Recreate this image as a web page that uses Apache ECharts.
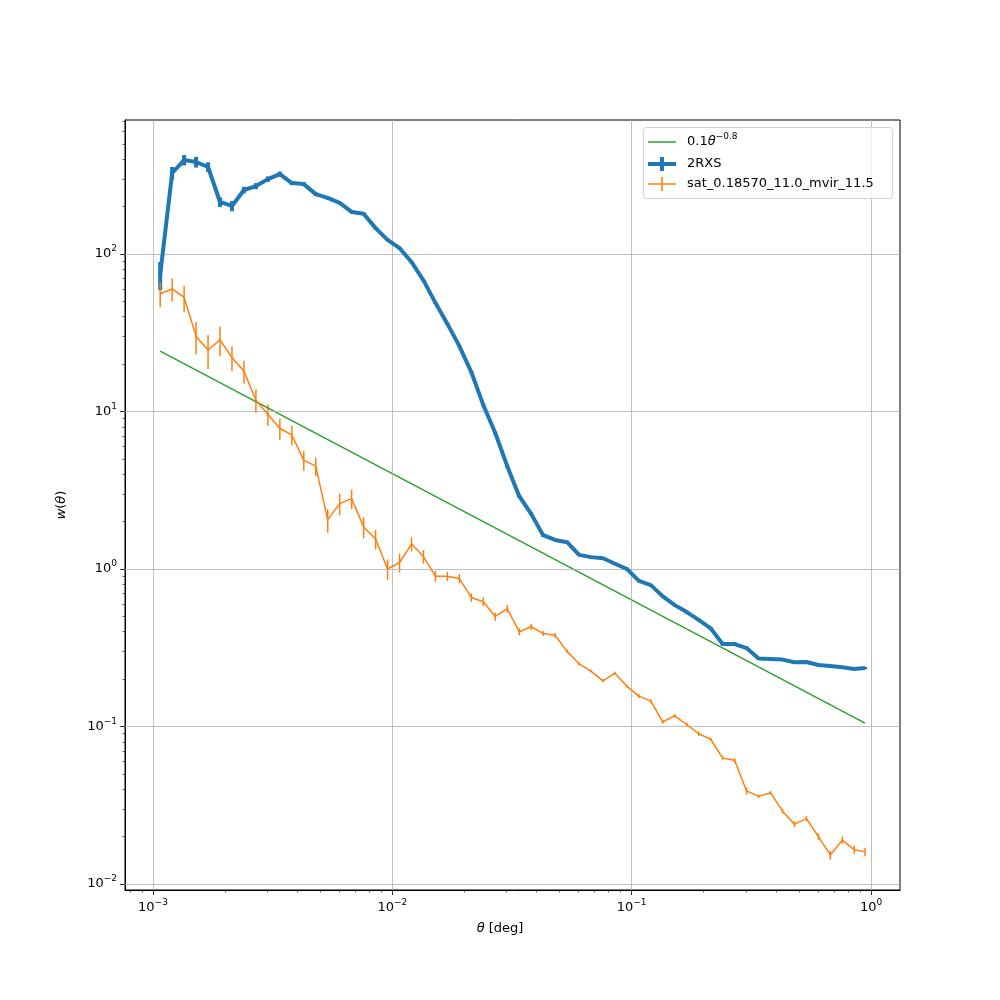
<!DOCTYPE html>
<html><head><meta charset="utf-8">
<script src="https://cdn.jsdelivr.net/npm/echarts@6/dist/echarts.min.js"></script>
<style>html,body{margin:0;background:#fff}#c{width:1000px;height:1000px}</style>
</head><body><div id="c"></div>
<script>
// log10(theta) of each bin
const logTheta = [-2.97,-2.92,-2.87,-2.82,-2.77,-2.72,-2.67,-2.62,-2.57,-2.52,-2.47,-2.42,-2.37,-2.32,-2.27,-2.22,-2.17,-2.12,-2.07,-2.02,-1.97,-1.92,-1.87,-1.82,-1.77,-1.72,-1.67,-1.62,-1.57,-1.52,-1.47,-1.42,-1.37,-1.32,-1.27,-1.22,-1.17,-1.12,-1.07,-1.02,-0.97,-0.92,-0.87,-0.82,-0.77,-0.72,-0.67,-0.62,-0.57,-0.52,-0.47,-0.42,-0.37,-0.32,-0.27,-0.22,-0.17,-0.12,-0.07,-0.025];
const rxs = [74,327,395,384,357,214,202,255,270,299,322,282,278,240,227,211,185,180,146,123,109,89,68,49,36,26,17.8,11,7.3,4.5,2.9,2.24,1.64,1.53,1.48,1.23,1.19,1.17,1.08,1.0,0.84,0.79,0.67,0.59,0.533,0.475,0.42,0.334,0.334,0.315,0.27,0.268,0.266,0.256,0.257,0.246,0.242,0.238,0.232,0.235];
const rxsErr = [15,30,30,30,25,15,15,12,12,12,12,8,8,6,5,4,4,3,3,2,2,1.5,1,0.8,0.6,0.4,0.3,0.2,0.15,0.1,0.07,0.05,0.04,0.03,0.03,0.02,0.02,0.02,0.02,0.02,0.015,0.015,0.01,0.01,0.01,0.01,0.008,0.008,0.008,0.006,0.005,0.005,0.005,0.005,0.005,0.004,0.004,0.004,0.004,0.004];
const sat = [56,60,53,30,24.6,28.5,22,18,11.8,9.6,7.8,7.1,4.9,4.5,2.05,2.6,2.8,1.85,1.55,1.0,1.1,1.44,1.2,0.9,0.9,0.87,0.66,0.62,0.5,0.56,0.40,0.43,0.39,0.38,0.30,0.25,0.225,0.195,0.218,0.18,0.156,0.145,0.107,0.117,0.103,0.09,0.083,0.063,0.061,0.039,0.036,0.038,0.029,0.024,0.026,0.020,0.0153,0.019,0.0165,0.016];
const satErr = [10,10,10,7,6,6,4,3,2,1.5,1.2,1,0.7,0.6,0.35,0.4,0.4,0.28,0.22,0.15,0.15,0.15,0.12,0.07,0.06,0.06,0.04,0.04,0.03,0.03,0.02,0.02,0.015,0.012,0.008,0.006,0.005,0.005,0.005,0.004,0.004,0.004,0.003,0.003,0.003,0.003,0.002,0.002,0.002,0.002,0.001,0.001,0.001,0.001,0.001,0.001,0.001,0.001,0.001,0.001];
const powerLaw = [[-2.97,24.2],[-0.025,0.105]];
const xMajor = [-3,-2,-1,0];
const yMajor = [-2,-1,0,1,2];

const L = Math.log10;
const minor = (lo,hi)=>{const r=[];for(let k=-4;k<=3;k++)for(let m=2;m<=9;m++){const v=k+L(m);if(v>lo&&v<hi)r.push(v);}return r;};
const XMIN=-3.117,XMAX=0.121,YMIN=-2.038,YMAX=2.851;
const fmt = v => '{b|10}{s|' + (v<0?'\u2212'+(-v):v) + '}';
const rich = {b:{fontSize:13,fontFamily:'DejaVu Sans',color:'#000'},s:{fontSize:9,fontFamily:'DejaVu Sans',color:'#000',padding:[0,0,10,0]}};
function ax(dim, lo, hi, major, isMinor){
  return {type:'value',min:lo,max:hi,gridIndex:0,
    position: dim==='x'?'bottom':'left',
    axisLine:{show:!isMinor,onZero:false,lineStyle:{color:'#000',width:1}},
    splitLine:{show:false},
    axisTick:{show:true,length:isMinor?2.5:5,customValues:isMinor?minor(lo,hi):major,lineStyle:{color:'#000',width:isMinor?0.6:0.8}},
    axisLabel:{show:!isMinor,customValues:major,formatter:fmt,rich:rich,margin:8}};
}
const grid = [];
xMajor.forEach(v=>grid.push({xAxis:v}));
yMajor.forEach(v=>grid.push({yAxis:v}));
function errSeries(vals, errs, color, width){
  return {type:'custom',z:3,silent:true,
    data: logTheta.map((x,i)=>[x,L(vals[i]-errs[i]),L(vals[i]+errs[i])]),
    renderItem:(p,api)=>{const a=api.coord([api.value(0),api.value(1)]),b=api.coord([api.value(0),api.value(2)]);
      return {type:'line',shape:{x1:a[0],y1:a[1],x2:b[0],y2:b[1]},style:{stroke:color,lineWidth:width}};}};
}
const chart = echarts.init(document.getElementById('c'),null,{renderer:'canvas'});
chart.setOption({
  animation:false,
  grid:{left:125,right:100,top:120,bottom:110,show:true,borderColor:'#000',borderWidth:1,backgroundColor:'transparent'},
  xAxis:[ax('x',XMIN,XMAX,xMajor,false),ax('x',XMIN,XMAX,xMajor,true)],
  yAxis:[ax('y',YMIN,YMAX,yMajor,false),ax('y',YMIN,YMAX,yMajor,true)],
  series:[
    {type:'line',data:[],markLine:{silent:true,symbol:'none',label:{show:false},animation:false,lineStyle:{color:'#b0b0b0',width:0.8,type:'solid'},data:grid}},
    {type:'line',z:4,data:powerLaw.map(d=>[d[0],L(d[1])]),showSymbol:false,lineStyle:{color:'#2ca02c',width:1.5}},
    errSeries(rxs,rxsErr,'#1f77b4',4),
    {type:'line',z:5,data:logTheta.map((x,i)=>[x,L(rxs[i])]),showSymbol:false,lineStyle:{color:'#1f77b4',width:4}},
    errSeries(sat,satErr,'#ff7f0e',1.5),
    {type:'line',z:6,data:logTheta.map((x,i)=>[x,L(sat[i])]),showSymbol:false,lineStyle:{color:'#ff7f0e',width:1.5}}
  ],
  graphic:[
    {type:'text',left:'center',top:922,style:{text:'{i|θ} [deg]',rich:{i:{fontStyle:'italic',fontSize:13,fontFamily:'DejaVu Sans'}},fontSize:13,fontFamily:'DejaVu Sans',fill:'#000'}},
    {type:'text',x:62,y:505,rotation:Math.PI/2,style:{text:'{i|w}({i|θ})',rich:{i:{fontStyle:'italic',fontSize:13,fontFamily:'DejaVu Sans'}},fontSize:13,fontFamily:'DejaVu Sans',fill:'#000',align:'center',verticalAlign:'middle'}},
    {type:'rect',z:100,shape:{x:643.5,y:127.5,width:249,height:71,r:3},style:{fill:'rgba(255,255,255,0.8)',stroke:'#d0d0d0',lineWidth:1}},
    {type:'line',z:101,shape:{x1:648,y1:142,x2:676,y2:142},style:{stroke:'#2ca02c',lineWidth:1.5}},
    {type:'text',z:101,x:687,y:142,style:{text:'0.1{i|θ}{s|−0.8}',rich:{i:{fontStyle:'italic',fontSize:13,fontFamily:'DejaVu Sans'},s:{fontSize:9,fontFamily:'DejaVu Sans',padding:[0,0,10,0]}},fontSize:13,fontFamily:'DejaVu Sans',fill:'#000',verticalAlign:'middle'}},
    {type:'line',z:101,shape:{x1:648,y1:164,x2:676,y2:164},style:{stroke:'#1f77b4',lineWidth:4}},
    {type:'line',z:101,shape:{x1:662,y1:157,x2:662,y2:171},style:{stroke:'#1f77b4',lineWidth:4}},
    {type:'text',z:101,x:687,y:164,style:{text:'2RXS',fontSize:13,fontFamily:'DejaVu Sans',fill:'#000',verticalAlign:'middle'}},
    {type:'line',z:101,shape:{x1:648,y1:184,x2:676,y2:184},style:{stroke:'#ff7f0e',lineWidth:1.5}},
    {type:'line',z:101,shape:{x1:662,y1:177,x2:662,y2:191},style:{stroke:'#ff7f0e',lineWidth:1.5}},
    {type:'text',z:101,x:687,y:184,style:{text:'sat_0.18570_11.0_mvir_11.5',fontSize:13,fontFamily:'DejaVu Sans',fill:'#000',verticalAlign:'middle'}}
  ]
});
</script></body></html>
